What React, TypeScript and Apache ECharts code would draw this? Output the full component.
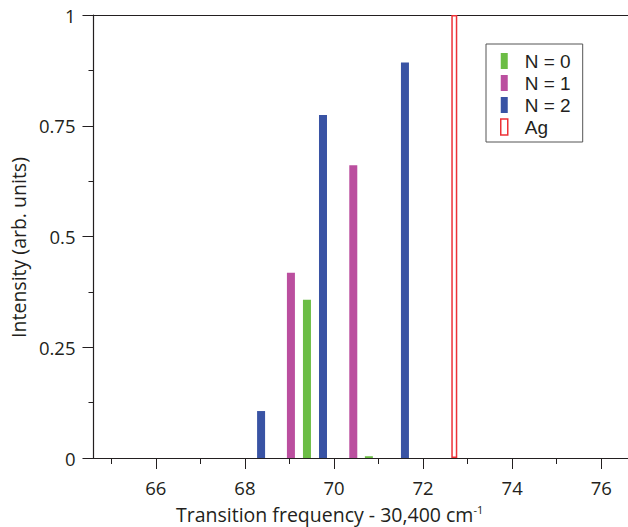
import React, { useEffect, useRef } from "react";
import * as echarts from "echarts";

const seriesNames = ["N = 0", "N = 1", "N = 2", "Ag"];
const n0Freq = [69.37, 70.76];
const n0Int = [0.357, 0.004];
const n1Freq = [69.01, 70.41];
const n1Int = [0.418, 0.661];
const n2Freq = [68.34, 69.73, 71.57];
const n2Int = [0.106, 0.774, 0.893];
const agFreq = [72.7];
const agInt = [1];
const xLabelTicks = [66, 68, 70, 72, 74, 76];
const xMinorTicks = [65, 67, 69, 71, 73, 75];
const colors = ["#6cbd45", "#bb4f9f", "#3953a4", "#ed3237"];

const FONT = "Open Sans";
const LEGEND_FONT = "Liberation Sans";
const TXT = "#231f20";

const pair = (xs: number[], ys: number[]) => xs.map((x, i) => [x, ys[i]]);

export default function App() {
  const ref = useRef<HTMLDivElement>(null);
  useEffect(() => {
    const chart = echarts.init(ref.current!, undefined, { renderer: "svg" });
    const xMin = 64.6;
    const xMax = 76.6;
    const barBase = {
      type: "bar",
      barWidth: 8,
      barGap: "-100%",
      xAxisIndex: 0,
      yAxisIndex: 0,
    };
    chart.setOption({
      animation: false,
      textStyle: { fontFamily: FONT, color: TXT },
      grid: { left: 91, right: 0, top: 15, bottom: 69 },
      legend: {
        orient: "vertical",
        left: 486,
        top: 44,
        padding: [6, 12, 4, 14],
        itemGap: 0,
        itemWidth: 7,
        itemHeight: 16,
        borderColor: "#555",
        borderWidth: 1,
        icon: "rect",
        textStyle: {
          fontSize: 19,
          lineHeight: 22,
          color: TXT,
          fontFamily: LEGEND_FONT,
          padding: [0, 0, 0, 12],
        },
        data: [
          { name: seriesNames[0] },
          { name: seriesNames[1] },
          { name: seriesNames[2] },
          { name: seriesNames[3], itemStyle: { color: "#fff", borderColor: colors[3], borderWidth: 1.5 } },
        ],
      },
      xAxis: [
        {
          type: "value",
          min: xMin,
          max: xMax,
          position: "bottom",
          axisLine: { show: true, lineStyle: { color: TXT, width: 1.2 } },
          splitLine: { show: false },
          axisTick: { show: true, customValues: xLabelTicks, length: 11, lineStyle: { color: TXT } },
          axisLabel: { customValues: xLabelTicks, fontSize: 18.5, color: TXT, margin: 20, fontFamily: FONT },
        },
        {
          type: "value",
          min: xMin,
          max: xMax,
          position: "bottom",
          axisLine: { show: false },
          splitLine: { show: false },
          axisTick: { show: true, customValues: xMinorTicks, length: 6, lineStyle: { color: TXT } },
          axisLabel: { show: false, customValues: xMinorTicks },
        },
        {
          type: "value",
          min: xMin,
          max: xMax,
          position: "top",
          axisLine: { show: true, lineStyle: { color: TXT, width: 1.2 } },
          splitLine: { show: false },
          axisTick: { show: false },
          axisLabel: { show: false },
        },
      ],
      yAxis: {
        type: "value",
        min: 0,
        max: 1,
        interval: 0.25,
        name: "Intensity (arb. units)",
        nameLocation: "middle",
        nameGap: 59,
        nameTextStyle: { fontSize: 19.5, color: TXT, fontFamily: FONT, padding: [0, 22, 0, 0] },
        axisLine: { show: true, lineStyle: { color: TXT, width: 1.2 } },
        splitLine: { show: false },
        axisTick: { show: true, length: 11, lineStyle: { color: TXT } },
        minorTick: { show: true, splitNumber: 2, length: 5, lineStyle: { color: TXT } },
        axisLabel: {
          fontSize: 18.5,
          color: TXT,
          margin: 18,
          fontFamily: FONT,
          formatter: (v: number) => (v === 0 ? "0" : v === 1 ? "1" : String(v)),
        },
      },
      series: [
        { ...barBase, name: seriesNames[0], data: pair(n0Freq, n0Int), itemStyle: { color: colors[0] } },
        { ...barBase, name: seriesNames[1], data: pair(n1Freq, n1Int), itemStyle: { color: colors[1] } },
        { ...barBase, name: seriesNames[2], data: pair(n2Freq, n2Int), itemStyle: { color: colors[2] } },
        {
          type: "bar",
          name: seriesNames[3],
          barWidth: 6,
          barGap: "-100%",
          data: pair(agFreq, agInt),
          itemStyle: { color: "#fff", borderColor: colors[3], borderWidth: 1.5 },
        },
      ],
      graphic: [
        {
          type: "text",
          left: 176,
          top: 504,
          style: {
            text: "{a|Transition frequency - 30,400 cm}{s|-1}",
            rich: {
              a: { fontSize: 19.5, fontFamily: FONT, fill: TXT },
              s: { fontSize: 11, fontFamily: FONT, fill: TXT, verticalAlign: "top", padding: [0, 0, 9, 0] },
            },
          },
        },
      ],
    });
    return () => chart.dispose();
  }, []);
  return (
    <div
      ref={ref}
      style={{ position: "absolute", left: 0, top: 0, width: 628, height: 527 }}
    />
  );
}
